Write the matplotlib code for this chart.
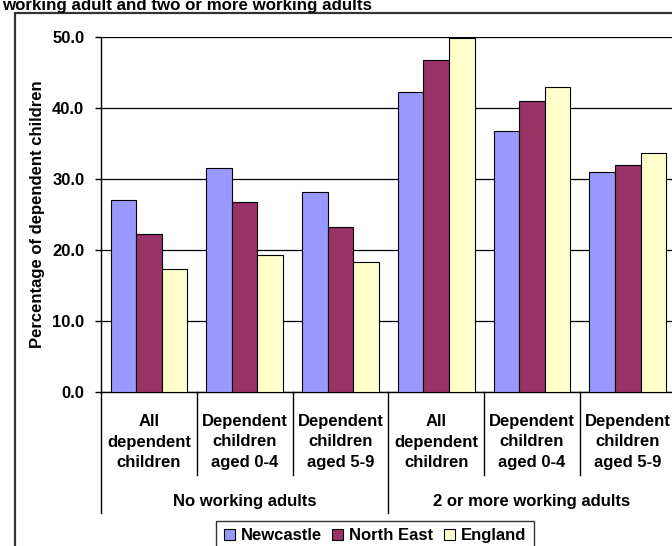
import matplotlib

matplotlib.use("Agg")
import matplotlib.pyplot as plt
import matplotlib.transforms as mtransforms
from matplotlib.patches import Rectangle
import numpy as np

plt.rcParams["font.family"] = ["Liberation Sans", "DejaVu Sans"]
plt.rcParams["font.weight"] = "bold"

# data
categories = [
    "All\ndependent\nchildren",
    "Dependent\nchildren\naged 0-4",
    "Dependent\nchildren\naged 5-9",
    "All\ndependent\nchildren",
    "Dependent\nchildren\naged 0-4",
    "Dependent\nchildren\naged 5-9",
]
groups = ["No working adults", "2 or more working adults"]
series = ["Newcastle", "North East", "England"]
newcastle = [27.0, 31.5, 28.1, 42.3, 36.8, 31.0]
north_east = [22.2, 26.7, 23.2, 46.8, 41.0, 32.0]
england = [17.3, 19.3, 18.3, 49.8, 42.9, 33.6]
colors = ["#9999FF", "#993366", "#FFFFCC"]
title = "working adult and two or more working adults"
ylabel = "Percentage of dependent children"

W, H = 672, 546
fig = plt.figure(figsize=(W / 100, H / 100), dpi=100)

# plot area in pixels: x 101..675.7, y 37..392
left, right, top, bottom = 101, 675.7, 37, 392
ax = fig.add_axes([left / W, 1 - bottom / H, (right - left) / W, (bottom - top) / H])

# outer chart frame (runs off the right and bottom edge)
fig.patches.append(
    Rectangle((14.5 / W, -0.1), 1.2, 1 - 12.7 / H + 0.1, transform=fig.transFigure,
              fill=False, edgecolor="#333333", linewidth=1.6, zorder=0)
)

# second line of the title; the first line is off the top of the image
fig.text(2 / W, 1 - 10 / H, title, fontsize=12.2, fontweight="bold", ha="left", va="baseline")

n = len(categories)
x = np.arange(n)
bw = 1 / 3.75
values = [newcastle, north_east, england]
for k, (vals, name, col) in enumerate(zip(values, series, colors)):
    ax.bar(x + 0.1 + k * bw, vals, width=bw, align="edge", color=col,
           edgecolor="black", linewidth=0.8, label=name, zorder=3)

ax.set_xlim(0, n)
ax.set_ylim(0, 50)
ax.set_yticks(np.arange(0, 51, 10))
ax.set_yticklabels([f"{v:.1f}" for v in np.arange(0, 51, 10)], fontsize=12, fontweight="bold")
ax.tick_params(axis="y", length=4, width=1, pad=8, direction="out")
ax.set_xticks([])
ax.grid(axis="y", color="black", linewidth=0.9, zorder=0)
ax.set_axisbelow(True)
for side in ["top", "right"]:
    ax.spines[side].set_visible(False)
ax.spines["left"].set_linewidth(1)
ax.spines["bottom"].set_linewidth(1)

ax.set_ylabel(ylabel, fontsize=12, fontweight="bold")
ax.yaxis.set_label_coords((45 - left) / (right - left), 0.5)

# category labels and separators below the axis
trans = mtransforms.blended_transform_factory(ax.transData, fig.transFigure)
for i, lab in enumerate(categories):
    ax.text(i + 0.5, 1 - 442 / H, lab, transform=trans, ha="center", va="center",
            fontsize=12, fontweight="bold", linespacing=1.45)
for i in range(n + 1):
    y_end = 512.7 if i % 3 == 0 else 475
    ax.plot([i, i], [1 - bottom / H, 1 - y_end / H], transform=trans, color="black",
            linewidth=1, clip_on=False)
for g, name in enumerate(groups):
    ax.text(g * 3 + 1.5, 1 - 501.7 / H, name, transform=trans, ha="center", va="center",
            fontsize=12, fontweight="bold")

leg = fig.legend(loc="upper center", bbox_to_anchor=(375 / W, 1 - 520.7 / H), ncol=3,
                 prop={"size": 12, "weight": "bold"}, frameon=True, fancybox=False,
                 handlelength=0.65, handleheight=0.65, handletextpad=0.35,
                 columnspacing=0.65, borderpad=0.45, borderaxespad=0)
leg.get_frame().set_edgecolor("black")
leg.get_frame().set_linewidth(1)

fig.savefig("out.png", dpi=100)
